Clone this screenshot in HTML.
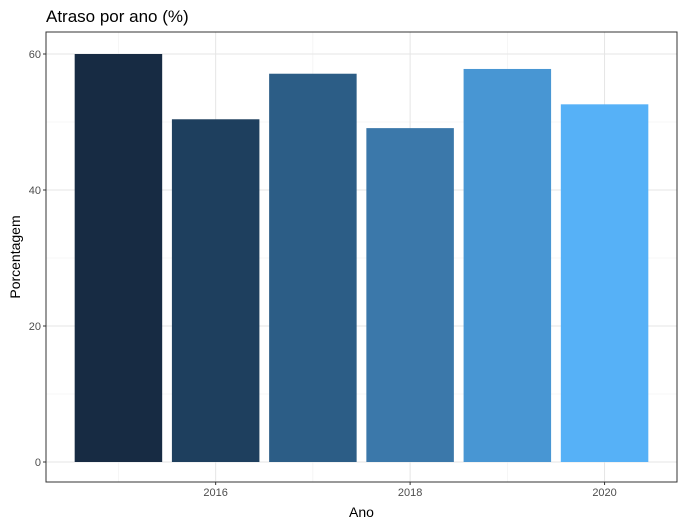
<!DOCTYPE html>
<html><head><meta charset="utf-8"><style>
body{margin:0;background:#fff;}
svg{display:block;font-family:"Liberation Sans",sans-serif;}
</style></head><body>
<svg id="chart" width="685" height="527"></svg>
<script>
const years=[2015,2016,2017,2018,2019,2020];
const values=[60.0,50.4,57.1,49.1,57.8,52.6];
const colors=['#172b43','#1e3f5e','#2c5d86','#3b78aa','#4896d3','#56b1f7'];
const yTicks=[0,20,40,60];
const yMinor=[10,30,50];
const xTicks=[2016,2018,2020];
const xMinor=[2015,2017,2019];

const L=46,R=677,T=32,B=482;
const xMin=2014.255,xMax=2020.745;
const x=v=>L+(v-xMin)/(xMax-xMin)*(R-L);
const y=v=>462-v*6.8;
const bw=0.9*(x(1)-x(0));
const svg=document.getElementById('chart');
const NS='http://www.w3.org/2000/svg';
function mk(t,a,p){const e=document.createElementNS(NS,t);for(const k in a)e.setAttribute(k,a[k]);(p||svg).appendChild(e);return e;}

const title=mk('text',{x:46,y:22,'font-size':17,fill:'#000'});title.textContent='Atraso por ano (%)';



yMinor.forEach(v=>{const l=mk('line',{x1:L,x2:R,y1:y(v),y2:y(v),stroke:'#f0f0f0','stroke-width':0.6});

});
xMinor.forEach(v=>{const l=mk('line',{x1:x(v),x2:x(v),y1:T,y2:B,stroke:'#f0f0f0','stroke-width':0.6});

});
yTicks.forEach(v=>{const l=mk('line',{x1:L,x2:R,y1:y(v),y2:y(v),stroke:'#e5e5e5','stroke-width':1});


const tk=mk('line',{x1:L-3,x2:L,y1:y(v),y2:y(v),stroke:'#333','stroke-width':1});


const t=mk('text',{x:L-5,y:y(v)+4,'font-size':11,fill:'#4d4d4d','text-anchor':'end'});t.textContent=v;

});
xTicks.forEach(v=>{const l=mk('line',{x1:x(v),x2:x(v),y1:T,y2:B,stroke:'#e5e5e5','stroke-width':1});


const tk=mk('line',{x1:x(v),x2:x(v),y1:B,y2:B+3,stroke:'#333','stroke-width':1});


const t=mk('text',{x:x(v),y:B+14,'font-size':11,fill:'#4d4d4d','text-anchor':'middle'});t.textContent=v;

});

years.forEach((yr,i)=>{const r=mk('rect',{x:x(yr)-bw/2,y:y(values[i]),width:bw,height:y(0)-y(values[i]),fill:colors[i]});

});

const frame=mk('rect',{x:L,y:T,width:R-L,height:B-T,fill:'none',stroke:'#333','stroke-width':1});



const xt=mk('text',{x:(L+R)/2,y:517,'font-size':14,fill:'#000','text-anchor':'middle'});xt.textContent='Ano';


const yt=mk('text',{x:0,y:0,'font-size':14,fill:'#000','text-anchor':'middle',transform:`translate(20,${(T+B)/2}) rotate(-90)`});yt.textContent='Porcentagem';


</script>
</body></html>
